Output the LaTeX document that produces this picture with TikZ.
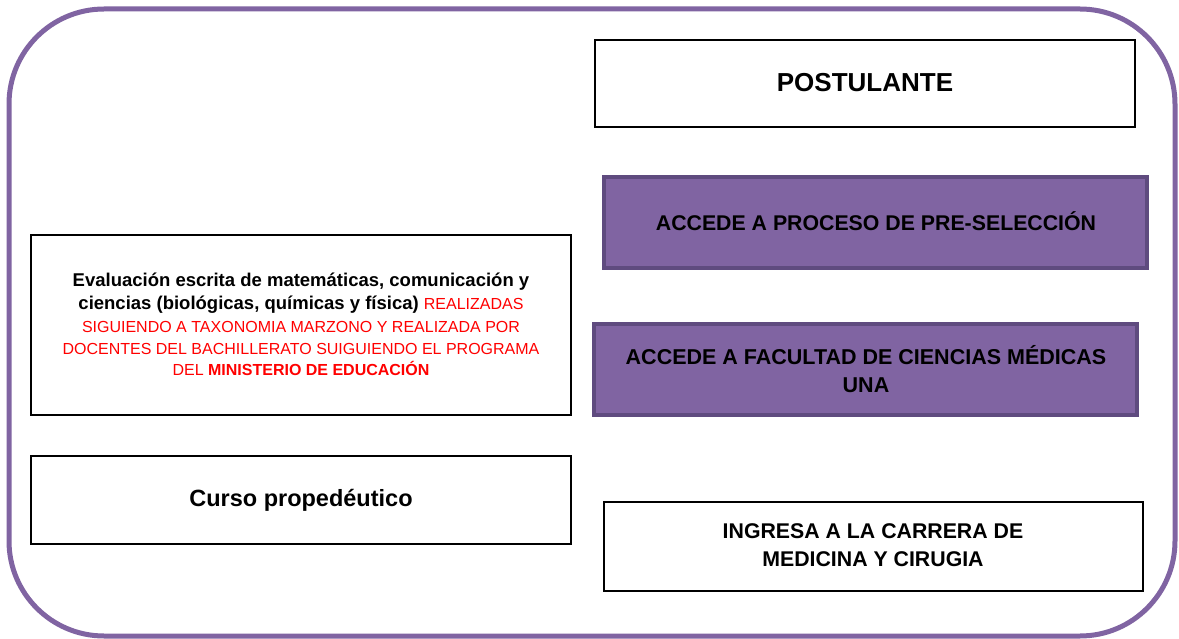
\documentclass[tikz,border=0pt]{standalone}
\usepackage{fontspec}
\setmainfont{Liberation Sans}
\definecolor{outerpurple}{HTML}{8064A2}
\definecolor{boxpurple}{HTML}{8064A2}
\definecolor{boxedge}{HTML}{5F4B7F}
\definecolor{redtxt}{HTML}{FF0000}
\begin{document}
\begin{tikzpicture}[x=1pt,y=-1pt,
  plainbox/.style={draw=black,line width=1.5pt,fill=white},
  purplebox/.style={draw=boxedge,line width=3.5pt,fill=boxpurple},
  txt/.style={align=center,font=\bfseries\fontsize{21.3}{28}\selectfont,inner sep=0pt},
  evblack/.style={anchor=base,inner sep=0pt,font=\bfseries\fontsize{18.5}{22}\selectfont},
  evred/.style={anchor=base,inner sep=0pt,text=redtxt,font=\fontsize{16}{20}\selectfont}]
\useasboundingbox (0,0) rectangle (1179,639);
\draw[outerpurple,line width=5pt,rounded corners=95pt] (9,9) rectangle (1175,636);
% boxes
\draw[plainbox] (595,40) rectangle (1135,127);
\node[txt,font=\bfseries\fontsize{26}{30}\selectfont] (post) at (865,83) {POSTULANTE};
\draw[purplebox] (604,177) rectangle (1147,268);
\node[txt] (pre) at (876,221) {ACCEDE A PROCESO DE PRE-SELECCIÓN};
\draw[purplebox] (594,324) rectangle (1137,415);
\node[txt,font=\bfseries\fontsize{21.5}{28}\selectfont] (fac) at (866,369) {ACCEDE A FACULTAD DE CIENCIAS MÉDICAS\\UNA};
\draw[plainbox] (604,502) rectangle (1143,591);
\node[txt] (ing) at (873,545) {INGRESA A LA CARRERA DE\\MEDICINA Y CIRUGIA};
\draw[plainbox] (31,235) rectangle (571,415);
\node[evblack] (eva1) at (301,286.5) {Evaluación escrita de matemáticas, comunicación y};
\node[evblack] (eva2) at (301,310) {ciencias (biológicas, químicas y física) {\mdseries\fontsize{16}{20}\selectfont\color{redtxt}REALIZADAS}};
\node[evred] (eva3) at (301,333) {SIGUIENDO A TAXONOMIA MARZONO Y REALIZADA POR};
\node[evred] (eva4) at (301,354.5) {DOCENTES DEL BACHILLERATO SUIGUIENDO EL PROGRAMA};
\node[evred] (eva5) at (301,375.5) {DEL \textbf{MINISTERIO DE EDUCACIÓN}};
\draw[plainbox] (31,456) rectangle (571,544);
\node[txt,anchor=base,font=\bfseries\fontsize{23.5}{28}\selectfont] (cur) at (301,506.5) {Curso propedéutico};
\end{tikzpicture}
\end{document}
